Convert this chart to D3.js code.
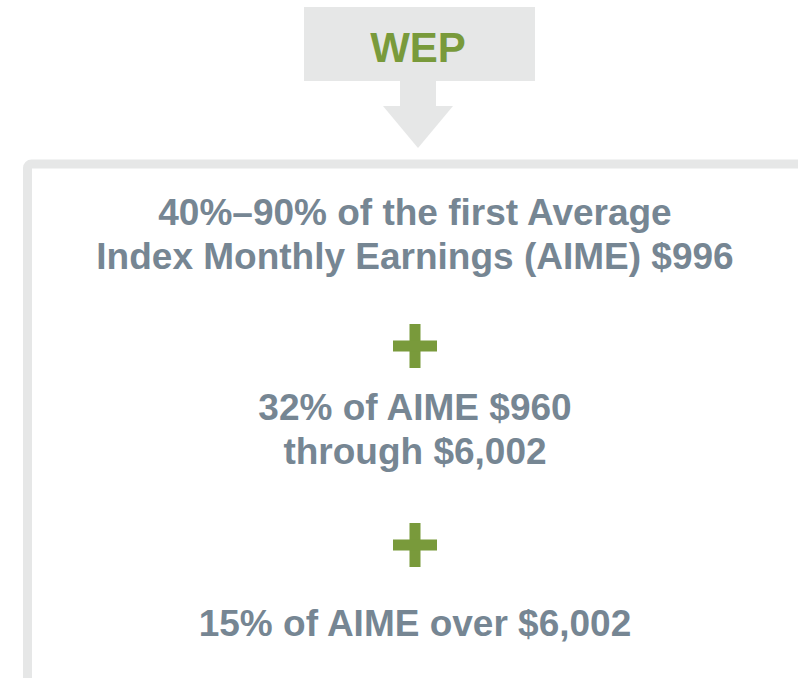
<!DOCTYPE html>
<html lang="en">
<head>
    <meta charset="UTF-8"/>
    <title>WEP formula</title>
    <script src="https://d3js.org/d3.v7.min.js"></script>
    <style>
        body { margin: 0; background: #fff; }
        text { font-family: Arial, "Liberation Sans", Helvetica, sans-serif; font-weight: bold; }
    </style>
</head>
<body>
    <script>
        var w = 798;
        var h = 678;

        // content
        var headerLabel = ["WEP"];
        var tier1 = ["40%\u201390% of the first Average", "Index Monthly Earnings (AIME) $996"];
        var tier2 = ["32% of AIME $960", "through $6,002"];
        var tier3 = ["15% of AIME over $6,002"];
        var tiers = [tier1, tier2, tier3];

        var green = "#799a3b";
        var grey = "#e6e7e7";
        var textCol = "#768693";
        var cx = 415;

        var svg = d3.select("body")
                    .append("svg")
                    .attr("width", w)
                    .attr("height", h);

        // header box + arrow
        svg.append("rect")
            .attr("x", 304).attr("y", 7)
            .attr("width", 231).attr("height", 74)
            .attr("fill", grey);

        svg.append("path")
            .attr("d", "M400,80 L436,80 L436,106 L453,106 L418,148 L383,106 L400,106 Z")
            .attr("fill", grey);

        svg.selectAll("text.header")
            .data(headerLabel)
            .enter()
            .append("text")
            .attr("class", "header")
            .attr("x", 418)
            .attr("y", 62)
            .attr("text-anchor", "middle")
            .attr("font-size", 42)
            .attr("fill", green)
            .text(function(d){ return d; });

        // frame (runs off right and bottom)
        svg.append("rect")
            .attr("x", 27.5).attr("y", 164)
            .attr("width", 820).attr("height", 600)
            .attr("rx", 4)
            .attr("fill", "none")
            .attr("stroke", grey)
            .attr("stroke-width", 9);

        // tiers of text
        var baselines = [225, 420, 636];
        var lineGap = 44;

        tiers.forEach(function(lines, t){
            svg.selectAll("text.tier" + t)
                .data(lines)
                .enter()
                .append("text")
                .attr("class", "tier" + t)
                .attr("x", cx)
                .attr("y", function(d, i){ return baselines[t] + i * lineGap; })
                .attr("text-anchor", "middle")
                .attr("font-size", 37)
                .attr("fill", textCol)
                .text(function(d){ return d; });
        });

        // plus signs between tiers
        var plusY = [346, 545];
        var arm = 11, span = 44;
        plusY.forEach(function(y){
            var g = svg.append("g").attr("fill", green);
            g.append("rect")
                .attr("x", cx - arm / 2).attr("y", y - span / 2)
                .attr("width", arm).attr("height", span);
            g.append("rect")
                .attr("x", cx - span / 2).attr("y", y - arm / 2)
                .attr("width", span).attr("height", arm);
        });
    </script>
</body>
</html>
